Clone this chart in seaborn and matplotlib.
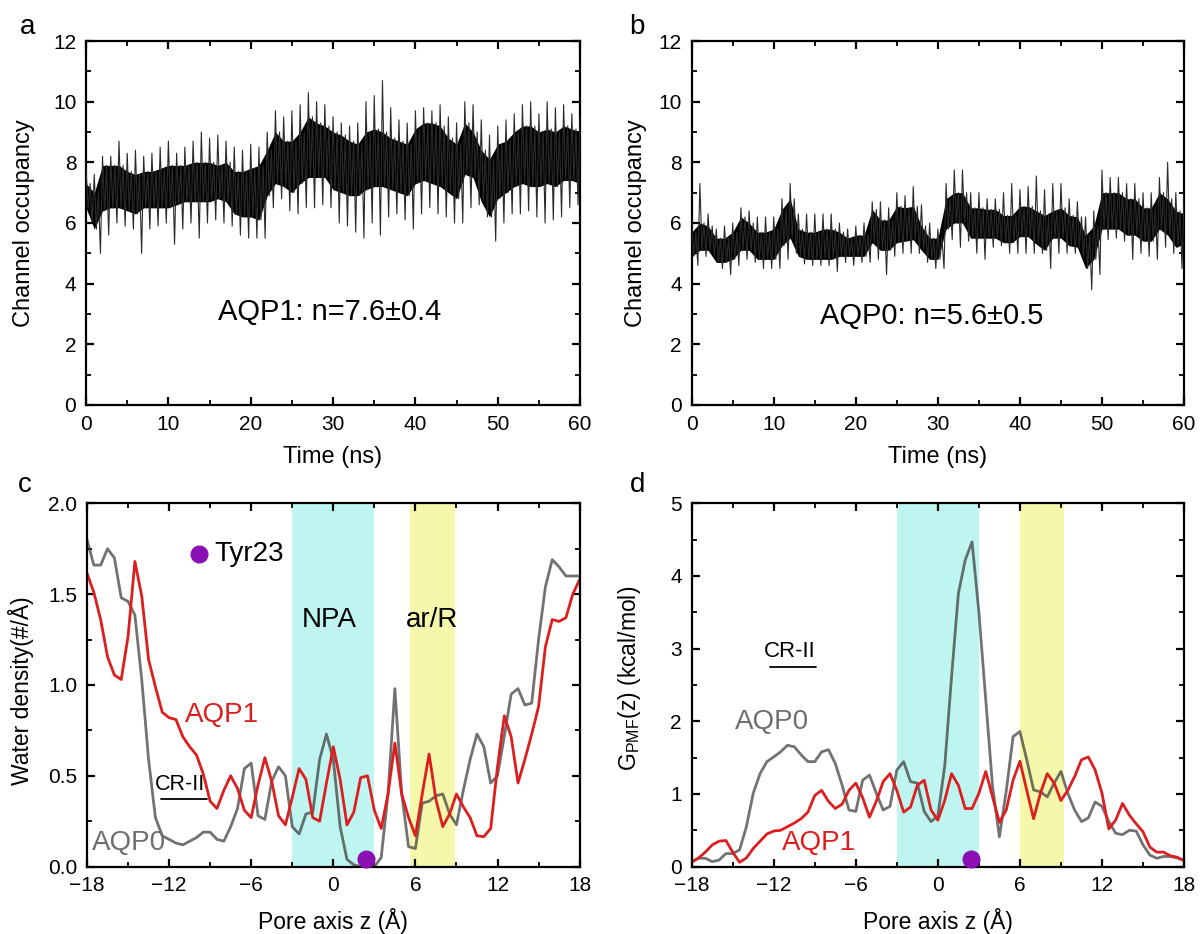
import numpy as np
import pandas as pd
import seaborn as sns
import matplotlib
matplotlib.use('Agg')
import matplotlib.pyplot as plt
from matplotlib.ticker import MultipleLocator, FormatStrFormatter

sns.set_style('ticks')
plt.rcParams['font.family'] = ['Liberation Sans', 'DejaVu Sans']
plt.rcParams['mathtext.default'] = 'regular'
plt.rcParams['text.color'] = 'black'
plt.rcParams['axes.labelcolor'] = 'black'

# ---- panel a/b : channel occupancy, read per ns (spike top, dense band top, dense band bottom, spike bottom)
time_ns = np.arange(0, 61)

aqp1_hi = [7.8, 7.6, 8.2, 8.2, 8.7, 8.3, 8.4, 8.2, 8.3, 8.5,
           8.7, 8.3, 8.5, 8.7, 9.0, 8.8, 8.9, 8.7, 8.5, 8.4,
           8.6, 8.5, 9.0, 9.7, 9.5, 9.7, 9.9, 10.3, 10.0, 9.9,
           9.5, 9.3, 9.2, 9.3, 10.0, 10.2, 10.7, 9.8, 9.4, 9.3,
           9.7, 9.8, 9.7, 9.9, 9.5, 9.3, 10.0, 9.9, 9.4, 8.9,
           9.2, 9.4, 9.6, 9.9, 10.0, 9.6, 10.0, 9.8, 9.9, 9.6, 9.5]
aqp1_core_hi = [7.3, 7.0, 7.9, 7.9, 7.9, 7.7, 7.6, 7.7, 7.7, 7.8,
                7.9, 7.9, 7.9, 8.0, 8.0, 8.0, 7.9, 8.0, 7.7, 7.7,
                7.8, 7.9, 8.4, 9.0, 8.7, 8.7, 9.0, 9.5, 9.3, 9.2,
                9.0, 8.9, 8.7, 8.6, 9.0, 9.1, 9.0, 8.8, 8.7, 8.6,
                9.1, 9.3, 9.3, 9.2, 8.8, 8.6, 9.3, 9.0, 8.4, 8.1,
                8.6, 8.7, 9.0, 9.2, 9.2, 9.0, 9.1, 9.0, 9.2, 9.1, 9.0]
aqp1_core_lo = [6.5, 5.8, 6.4, 6.5, 6.5, 6.4, 6.3, 6.5, 6.5, 6.5,
                6.5, 6.6, 6.7, 6.7, 6.7, 6.7, 6.8, 6.7, 6.3, 6.2,
                6.2, 6.1, 6.9, 7.3, 7.2, 7.0, 7.3, 7.5, 7.5, 7.5,
                7.1, 7.0, 6.9, 6.9, 7.1, 7.2, 7.2, 7.1, 7.0, 6.9,
                7.3, 7.4, 7.3, 7.2, 7.0, 6.8, 7.6, 7.5, 6.7, 6.2,
                6.8, 7.0, 7.2, 7.3, 7.2, 7.2, 7.3, 7.2, 7.4, 7.4, 7.3]
aqp1_lo = [6.0, 5.0, 5.6, 6.0, 5.9, 5.8, 5.0, 5.8, 5.9, 6.0,
           5.3, 5.8, 6.0, 5.5, 6.0, 6.1, 6.0, 5.9, 5.6, 5.5,
           5.5, 5.5, 6.5, 6.8, 6.4, 6.3, 6.5, 6.5, 6.6, 6.5,
           6.0, 5.9, 5.7, 5.5, 6.0, 5.6, 6.2, 6.3, 6.1, 5.8,
           6.3, 6.5, 6.3, 6.2, 6.0, 6.0, 6.5, 6.6, 6.2, 5.4,
           6.0, 6.3, 6.3, 6.4, 6.2, 6.0, 6.1, 6.2, 6.5, 6.6, 6.8]

aqp0_hi = [6.1, 7.3, 6.3, 5.8, 5.9, 6.0, 6.5, 6.4, 6.2, 6.2,
           6.2, 6.8, 7.3, 6.3, 6.3, 6.3, 6.3, 6.3, 6.0, 5.8,
           5.9, 6.0, 6.7, 6.7, 6.5, 7.0, 6.9, 7.2, 6.6, 6.0,
           5.8, 7.3, 7.75, 7.75, 7.0, 7.0, 6.8, 6.8, 7.0, 7.3,
           7.1, 7.2, 7.55, 7.1, 7.3, 7.3, 6.8, 6.7, 6.2, 6.4,
           7.75, 7.5, 7.5, 7.3, 7.3, 7.0, 7.0, 7.5, 8.0, 7.0, 7.0]
aqp0_core_hi = [5.7, 6.0, 5.9, 5.5, 5.5, 5.7, 6.2, 6.0, 5.7, 5.7,
                5.8, 6.45, 6.8, 5.8, 5.7, 5.7, 5.8, 5.8, 5.7, 5.5,
                5.6, 5.6, 6.45, 6.1, 6.1, 6.55, 6.5, 6.55, 5.9, 5.5,
                5.5, 6.8, 7.0, 7.0, 6.5, 6.5, 6.45, 6.45, 6.25, 6.25,
                6.55, 6.55, 6.4, 6.25, 6.4, 6.5, 6.25, 6.2, 5.6, 5.9,
                7.0, 7.0, 7.0, 6.8, 6.8, 6.5, 6.5, 7.0, 6.8, 6.4, 6.3]
aqp0_core_lo = [4.9, 5.1, 5.1, 4.7, 4.7, 4.8, 5.1, 5.1, 4.8, 4.8,
                4.8, 5.25, 5.5, 4.9, 4.8, 4.8, 4.8, 4.8, 4.9, 4.9,
                4.9, 4.9, 5.35, 5.1, 5.1, 5.35, 5.4, 5.45, 5.1, 4.8,
                4.8, 5.8, 6.0, 6.0, 5.5, 5.5, 5.5, 5.5, 5.35, 5.35,
                5.55, 5.55, 5.3, 5.1, 5.5, 5.5, 5.25, 5.2, 4.5, 4.8,
                5.8, 5.8, 5.8, 5.6, 5.6, 5.4, 5.4, 5.8, 5.6, 5.2, 5.3]
aqp0_lo = [4.6, 4.9, 4.9, 4.5, 4.3, 4.6, 4.8, 4.7, 4.5, 4.5,
           4.5, 4.8, 5.0, 4.65, 4.6, 4.6, 4.6, 4.4, 4.7, 4.6,
           4.7, 4.7, 4.8, 4.3, 4.9, 5.0, 5.0, 5.0, 4.7, 4.5,
           4.5, 5.45, 5.2, 5.4, 5.0, 4.8, 5.2, 5.25, 5.0, 5.0,
           5.0, 5.0, 5.0, 4.5, 5.0, 5.0, 5.0, 4.9, 3.8, 4.3,
           5.45, 5.5, 5.4, 4.8, 5.0, 4.9, 4.8, 5.2, 5.0, 4.5, 4.6]

# ---- panel c/d : profiles along the pore axis (0.5 A steps)
pore_z = np.linspace(-18, 18, 73)

density_aqp0 = [1.80, 1.66, 1.66, 1.75, 1.70, 1.48, 1.46, 1.385, 1.03, 0.59,
                0.27, 0.17, 0.15, 0.13, 0.12, 0.14, 0.16, 0.19, 0.19, 0.15,
                0.14, 0.22, 0.32, 0.54, 0.57, 0.28, 0.26, 0.47, 0.55, 0.50,
                0.22, 0.18, 0.29, 0.30, 0.59, 0.73, 0.59, 0.22, 0.04, 0.01,
                0.0, 0.0, 0.0, 0.05, 0.40, 0.98, 0.40, 0.11, 0.10, 0.35,
                0.36, 0.39, 0.40, 0.29, 0.23, 0.42, 0.59, 0.73, 0.66, 0.46,
                0.50, 0.72, 0.95, 0.98, 0.89, 0.90, 1.25, 1.54, 1.69, 1.65,
                1.60, 1.60, 1.60]
density_aqp1 = [1.615, 1.51, 1.36, 1.156, 1.055, 1.03, 1.266, 1.68, 1.49, 1.14,
                0.99, 0.85, 0.82, 0.81, 0.716, 0.66, 0.615, 0.51, 0.36, 0.32,
                0.42, 0.50, 0.43, 0.31, 0.27, 0.45, 0.60, 0.47, 0.28, 0.23,
                0.38, 0.54, 0.48, 0.27, 0.25, 0.46, 0.66, 0.48, 0.23, 0.30,
                0.49, 0.50, 0.31, 0.21, 0.40, 0.68, 0.40, 0.27, 0.17, 0.40,
                0.62, 0.37, 0.22, 0.29, 0.40, 0.33, 0.27, 0.17, 0.165, 0.21,
                0.55, 0.83, 0.715, 0.46, 0.59, 0.73, 0.88, 1.21, 1.36, 1.35,
                1.37, 1.50, 1.58]

pmf_aqp0 = [0.07, 0.115, 0.115, 0.07, 0.09, 0.18, 0.18, 0.23, 0.55, 1.01,
            1.28, 1.445, 1.51, 1.58, 1.67, 1.65, 1.54, 1.445, 1.445, 1.58,
            1.61, 1.42, 1.12, 0.78, 0.76, 1.19, 1.26, 1.01, 0.78, 0.83,
            1.33, 1.445, 1.17, 1.15, 0.76, 0.62, 0.70, 1.38, 2.61, 3.76,
            4.22, 4.47, 3.5, 2.3, 1.1, 0.41, 1.04, 1.79, 1.86, 1.47,
            1.055, 1.03, 0.96, 1.15, 1.31, 1.01, 0.78, 0.62, 0.67, 0.89,
            0.83, 0.62, 0.46, 0.44, 0.50, 0.49, 0.30, 0.16, 0.115, 0.14,
            0.14, 0.12, 0.09]
pmf_aqp1 = [0.06, 0.12, 0.20, 0.30, 0.35, 0.36, 0.20, 0.06, 0.12, 0.25,
            0.35, 0.45, 0.49, 0.50, 0.55, 0.60, 0.66, 0.75, 0.98, 1.05,
            0.90, 0.80, 0.86, 1.05, 1.15, 0.95, 0.68, 0.90, 1.17, 1.28,
            1.05, 0.75, 0.82, 1.12, 1.19, 0.78, 0.64, 0.91, 1.28, 1.12,
            0.80, 0.80, 1.01, 1.31, 0.96, 0.61, 0.78, 1.19, 1.45, 1.05,
            0.66, 1.01, 1.28, 1.15, 0.91, 1.05, 1.24, 1.47, 1.51, 1.33,
            1.01, 0.52, 0.64, 0.87, 0.71, 0.59, 0.48, 0.27, 0.20, 0.20,
            0.15, 0.13, 0.08]

npa_region = (-3.0, 3.0)
arr_region_c = (5.6, 8.9)
arr_region_d = (6.0, 9.2)
tyr23_z = 2.4
tyr23_density = 0.04
tyr23_pmf = 0.10

RED = '#dc1e1e'
GRAY = '#3c3c3c'
GRAY_TEXT = '#6e6e6e'
PURPLE = '#8a10b4'
CYAN = '#bff5f1'
YELLOW = '#f5f7aa'


def style_axes(ax):
    for s in ax.spines.values():
        s.set_visible(True)
        s.set_color('black')
        s.set_linewidth(1.6)
    ax.tick_params(which='both', direction='in', top=True, right=True,
                   labelsize=15, pad=7, color='black', labelcolor='black')
    ax.tick_params(which='major', length=6, width=1.6)
    ax.tick_params(which='minor', length=3.5, width=1.3)


def draw_trace(ax, hi, chi, clo, lo):
    # zigzag through the read envelope: spike up, dense band, spike down
    hi, chi, clo, lo = map(np.asarray, (hi, chi, clo, lo))
    steps = np.arange(4) / 4.0
    xs = (time_ns[:, None] + steps[None, :]).ravel()
    ys = np.column_stack([hi, clo, chi, lo]).ravel()
    ax.fill_between(time_ns, clo, chi, color='black', lw=0, zorder=2)
    sns.lineplot(x=xs, y=ys, sort=False, estimator=None, color='#2a2a2a',
                 lw=0.8, ax=ax, zorder=3)
    ax.set_xlim(0, 60)
    ax.set_ylim(0, 12)
    ax.xaxis.set_major_locator(MultipleLocator(10))
    ax.xaxis.set_minor_locator(MultipleLocator(5))
    ax.yaxis.set_major_locator(MultipleLocator(2))
    ax.yaxis.set_minor_locator(MultipleLocator(1))
    ax.set_xlabel('Time (ns)', fontsize=17)
    ax.set_ylabel('Channel occupancy', fontsize=17)
    ax.xaxis.set_label_coords(0.5, -0.112)
    style_axes(ax)


fig = plt.figure(figsize=(12, 9.34), dpi=100)
ax_a = fig.add_axes([0.0717, 0.5664, 0.4117, 0.3897])
ax_b = fig.add_axes([0.5764, 0.5664, 0.4103, 0.3897])
ax_c = fig.add_axes([0.0725, 0.0721, 0.4105, 0.3890])
ax_d = fig.add_axes([0.5764, 0.0721, 0.4103, 0.3890])

# a
draw_trace(ax_a, aqp1_hi, aqp1_core_hi, aqp1_core_lo, aqp1_lo)
ax_a.yaxis.set_label_coords(-0.103, 0.5)
ax_a.text(29.6, 3.06, 'AQP1: n=7.6±0.4', fontsize=21, ha='center', va='center')

# b
draw_trace(ax_b, aqp0_hi, aqp0_core_hi, aqp0_core_lo, aqp0_lo)
ax_b.yaxis.set_label_coords(-0.091, 0.5)
ax_b.text(29.2, 2.92, 'AQP0: n=5.6±0.5', fontsize=21, ha='center', va='center')

# c
df_c = pd.DataFrame({'z': pore_z, 'AQP0': density_aqp0, 'AQP1': density_aqp1})
ax_c.axvspan(*npa_region, color=CYAN, lw=0, zorder=0)
ax_c.axvspan(*arr_region_c, color=YELLOW, lw=0, zorder=0)
sns.lineplot(data=df_c, x='z', y='AQP0', color=GRAY, alpha=0.72, lw=2, ax=ax_c, zorder=2)
sns.lineplot(data=df_c, x='z', y='AQP1', color=RED, lw=2, ax=ax_c, zorder=2)
ax_c.plot([tyr23_z], [tyr23_density], 'o', color=PURPLE, ms=12, clip_on=False, zorder=5)
ax_c.plot([-9.8], [1.72], 'o', color=PURPLE, ms=12, zorder=5)
ax_c.text(-8.7, 1.72, 'Tyr23', fontsize=20, ha='left', va='center')
ax_c.text(-0.3, 1.36, 'NPA', fontsize=20, ha='center', va='center', zorder=6)
ax_c.text(7.2, 1.36, 'ar/R', fontsize=20, ha='center', va='center', zorder=6)
ax_c.text(-8.1, 0.835, 'AQP1', fontsize=20, color=RED, ha='center', va='center')
ax_c.text(-14.9, 0.13, 'AQP0', fontsize=20, color=GRAY_TEXT, ha='center', va='center')
ax_c.text(-11.2, 0.45, 'CR-II', fontsize=15.5, ha='center', va='center')
ax_c.plot([-12.6, -9.2], [0.37, 0.37], color='black', lw=1.3)
ax_c.set_xlim(-18, 18)
ax_c.set_ylim(0, 2.0)
ax_c.xaxis.set_major_locator(MultipleLocator(6))
ax_c.xaxis.set_minor_locator(MultipleLocator(3))
ax_c.yaxis.set_major_locator(MultipleLocator(0.5))
ax_c.yaxis.set_minor_locator(MultipleLocator(0.25))
ax_c.yaxis.set_major_formatter(FormatStrFormatter('%.1f'))
ax_c.set_xlabel('Pore axis z (Å)', fontsize=16.5)
ax_c.set_ylabel('Water density(#/Å)', fontsize=16.5)
ax_c.xaxis.set_label_coords(0.5, -0.113)
ax_c.yaxis.set_label_coords(-0.107, 0.484)
style_axes(ax_c)

# d
df_d = pd.DataFrame({'z': pore_z, 'AQP0': pmf_aqp0, 'AQP1': pmf_aqp1})
ax_d.axvspan(*npa_region, color=CYAN, lw=0, zorder=0)
ax_d.axvspan(*arr_region_d, color=YELLOW, lw=0, zorder=0)
sns.lineplot(data=df_d, x='z', y='AQP0', color=GRAY, alpha=0.72, lw=2, ax=ax_d, zorder=2)
sns.lineplot(data=df_d, x='z', y='AQP1', color=RED, lw=2, ax=ax_d, zorder=2)
ax_d.plot([tyr23_z], [tyr23_pmf], 'o', color=PURPLE, ms=12, clip_on=False, zorder=5)
ax_d.text(-10.8, 2.96, 'CR-II', fontsize=16, ha='center', va='center')
ax_d.plot([-12.3, -8.9], [2.75, 2.75], color='black', lw=1.3)
ax_d.text(-12.1, 1.99, 'AQP0', fontsize=20, color=GRAY_TEXT, ha='center', va='center')
ax_d.text(-8.7, 0.33, 'AQP1', fontsize=20, color=RED, ha='center', va='center')
ax_d.set_xlim(-18, 18)
ax_d.set_ylim(0, 5)
ax_d.xaxis.set_major_locator(MultipleLocator(6))
ax_d.xaxis.set_minor_locator(MultipleLocator(3))
ax_d.yaxis.set_major_locator(MultipleLocator(1))
ax_d.yaxis.set_minor_locator(MultipleLocator(0.5))
ax_d.set_xlabel('Pore axis z (Å)', fontsize=16.5)
ax_d.set_ylabel('G$_{PMF}$(z) (kcal/mol)', fontsize=16.5)
ax_d.xaxis.set_label_coords(0.5, -0.113)
ax_d.yaxis.set_label_coords(-0.098, 0.519)
style_axes(ax_d)

for lab, x, y in [('a', 0.0233, 0.971), ('b', 0.531, 0.971), ('c', 0.021, 0.481), ('d', 0.531, 0.481)]:
    fig.text(x, y, lab, fontsize=20, ha='center', va='center')

fig.savefig('out.png', dpi=100)
